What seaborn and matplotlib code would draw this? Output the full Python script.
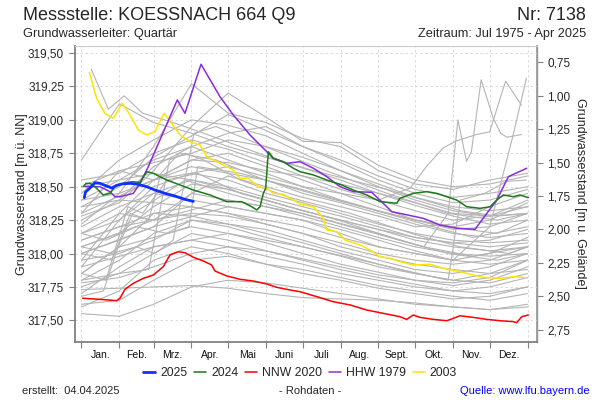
import numpy as np
import pandas as pd
import matplotlib
matplotlib.use("Agg")
import matplotlib.pyplot as plt
import seaborn as sns
from matplotlib.ticker import FixedLocator, FuncFormatter, NullFormatter
from matplotlib.lines import Line2D

sns.set_theme(style="white")
plt.rcParams['font.family'] = ['Liberation Sans', 'DejaVu Sans']

# ---------------- data ----------------
month_labels = ["Jan.", "Feb.", "Mrz.", "Apr.", "Mai", "Juni", "Juli", "Aug.", "Sept.", "Okt.", "Nov.", "Dez."]
month_starts = [0, 31, 59, 90, 120, 151, 181, 212, 243, 273, 304, 334, 365]
ground_level = 320.18

blue_days = [2.3, 3.3, 7, 11, 15, 20.6, 24.7, 28.8, 32.9, 39.7, 45.2, 49.3, 53.4, 60.1, 68.3, 76.5, 84.7, 91.5]
blue_levels = [318.418, 318.46, 318.49, 318.53, 318.525, 318.505, 318.49, 318.51, 318.52, 318.525,
               318.52, 318.51, 318.50, 318.475, 318.45, 318.43, 318.405, 318.39]

green_days = [1.5, 3.7, 7, 11, 15.1, 17.8, 23.3, 27.4, 34.2, 41.1, 47.9, 53.4, 58.8, 69.7, 80.6, 91.5,
              105.2, 118.8, 131.1, 139.3, 143.4, 146.1, 148.8, 150.7, 152.9, 157, 165.1, 173.3, 178.8,
              189.7, 200.7, 212.9, 222.4, 233.4, 244.3, 257.9, 260.6, 271.5, 282.5, 290.7, 298.9, 307,
              315.2, 326.1, 334.3, 339.8, 345.2, 353.4, 358.8, 365.6]
green_levels = [318.50, 318.525, 318.525, 318.50, 318.463, 318.438, 318.45, 318.50, 318.525, 318.537,
                318.533, 318.612, 318.60, 318.55, 318.513, 318.475, 318.438, 318.388, 318.388, 318.35,
                318.326, 318.35, 318.45, 318.488, 318.762, 318.713, 318.687, 318.638, 318.612, 318.588,
                318.55, 318.513, 318.475, 318.438, 318.388, 318.376, 318.413, 318.45, 318.463, 318.45,
                318.425, 318.40, 318.35, 318.338, 318.35, 318.40, 318.438, 318.425, 318.438, 318.418]

red_days = [1, 15.1, 28.8, 31.5, 35.6, 42.4, 50.6, 58.8, 66.9, 72.4, 79.2, 84.7, 91.5, 99.7, 106.5,
            109.2, 118.8, 129.7, 140.6, 151.6, 159.7, 170.6, 178.8, 192.5, 206.1, 219.7, 233.4, 247,
            260.6, 266.1, 271.5, 277, 287.9, 298.9, 304.3, 309.7, 320.6, 331.6, 342.5, 353.4, 356.1,
            360.2, 365.6]
red_levels = [317.665, 317.657, 317.647, 317.665, 317.732, 317.777, 317.814, 317.839, 317.901, 317.989,
              318.013, 318.006, 317.972, 317.944, 317.914, 317.869, 317.832, 317.807, 317.794, 317.772,
              317.747, 317.727, 317.714, 317.677, 317.639, 317.615, 317.577, 317.552, 317.527, 317.507,
              317.54, 317.522, 317.507, 317.497, 317.515, 317.534, 317.522, 317.507, 317.497, 317.49,
              317.482, 317.527, 317.54]

purple_days = [2.9, 15.1, 23.3, 27.4, 31.5, 42.4, 47.9, 54.7, 64.2, 78.4, 84.7, 97.8, 113.3, 124.2,
               137.9, 151.6, 157, 167.9, 178.8, 189.7, 200.7, 211.5, 222.4, 237.5, 249.8, 253.8, 260.6,
               279.7, 293.4, 307, 322, 331.6, 339.8, 349.3, 364.3]
purple_levels = [318.50, 318.50, 318.463, 318.425, 318.425, 318.45, 318.525, 318.65, 318.85, 319.149,
                 319.049, 319.416, 319.174, 319.037, 318.887, 318.762, 318.713, 318.675, 318.687, 318.638,
                 318.575, 318.50, 318.463, 318.458, 318.35, 318.313, 318.30, 318.263, 318.213, 318.189,
                 318.181, 318.30, 318.40, 318.575, 318.638]

yellow_days = [6.4, 12.4, 19.2, 26, 33.4, 39.7, 46.5, 53.4, 60.1, 67.5, 73.8, 80.6, 88.8, 97, 102.5,
               113.3, 124.2, 129.7, 136.5, 144.7, 151.6, 157, 165.1, 173.3, 178.8, 189.7, 197.9, 200.7,
               208.8, 215.6, 227.9, 236.1, 244.3, 252.5, 260.6, 271.5, 285.2, 296.1, 309.7, 320.6, 328.8,
               342.5, 353.4, 361.5]
yellow_levels = [319.356, 319.162, 319.049, 319.012, 319.124, 319.037, 318.924, 318.887, 318.912, 319.049,
                 318.975, 318.887, 318.837, 318.812, 318.725, 318.675, 318.625, 318.563, 318.563, 318.50,
                 318.488, 318.45, 318.443, 318.40, 318.37, 318.35, 318.263, 318.176, 318.163, 318.101,
                 318.064, 318.026, 317.976, 317.964, 317.939, 317.914, 317.919, 317.889, 317.864, 317.839,
                 317.822, 317.814, 317.826, 317.822]

# other years (grey), values at the month starts
grey_levels = [
    [318.70, 319.12, 318.98, 318.90, 318.80, 318.72, 318.64, 318.55, 318.45, 318.36, 318.28, 318.22, 318.25],
    [318.22, 318.45, 318.80, 319.27, 319.05, 318.98, 318.86, 318.80, 318.62, 318.52, 318.48, 318.55, 318.60],
    [318.28, 318.38, 318.62, 318.95, 319.20, 319.02, 318.84, 318.83, 318.66, 318.55, 318.50, 318.52, 318.58],
    [318.40, 318.55, 318.70, 318.80, 318.90, 318.95, 318.80, 318.70, 318.58, 318.48, 318.42, 318.45, 318.50],
    [318.45, 318.70, 318.85, 319.00, 318.96, 318.88, 318.75, 318.62, 318.50, 318.40, 318.32, 318.28, 318.30],
    [318.35, 318.50, 318.72, 318.88, 319.04, 318.92, 318.80, 318.68, 318.55, 318.45, 318.38, 318.40, 318.48],
    [318.50, 318.62, 318.68, 318.75, 318.85, 318.80, 318.72, 318.62, 318.52, 318.42, 318.35, 318.32, 318.35],
    [318.15, 318.30, 318.55, 318.70, 318.68, 318.62, 318.58, 318.52, 318.45, 318.38, 318.30, 318.28, 318.35],
    [318.40, 318.45, 318.55, 318.65, 318.60, 318.55, 318.45, 318.38, 318.30, 318.22, 318.15, 318.12, 318.15],
    [318.30, 318.62, 318.55, 318.70, 318.75, 318.65, 318.55, 318.45, 318.35, 318.25, 318.18, 318.20, 318.30],
    [318.15, 318.25, 318.50, 318.60, 318.55, 318.45, 318.38, 318.30, 318.22, 318.15, 318.10, 318.08, 318.10],
    [318.05, 318.15, 318.35, 318.52, 318.48, 318.40, 318.32, 318.25, 318.18, 318.10, 318.05, 318.02, 318.05],
    [317.95, 318.30, 318.25, 318.45, 318.40, 318.35, 318.28, 318.20, 318.12, 318.05, 318.00, 317.98, 318.00],
    [318.20, 318.35, 318.45, 318.40, 318.35, 318.30, 318.25, 318.18, 318.10, 318.02, 317.95, 317.92, 317.95],
    [317.85, 318.05, 318.30, 318.35, 318.30, 318.22, 318.15, 318.08, 318.00, 317.95, 317.92, 317.95, 318.05],
    [318.10, 318.20, 318.25, 318.30, 318.28, 318.22, 318.15, 318.05, 317.98, 317.92, 317.88, 317.85, 317.88],
    [317.80, 317.95, 318.15, 318.25, 318.22, 318.18, 318.10, 318.02, 317.95, 317.88, 317.85, 317.90, 318.00],
    [318.50, 318.55, 318.60, 318.55, 318.48, 318.40, 318.32, 318.25, 318.18, 318.12, 318.08, 318.10, 318.18],
    [318.25, 318.40, 318.65, 318.80, 318.70, 318.60, 318.50, 318.40, 318.32, 318.25, 318.20, 318.25, 318.38],
    [317.90, 318.25, 318.45, 318.55, 318.50, 318.42, 318.35, 318.28, 318.20, 318.12, 318.08, 318.05, 318.08],
    [318.35, 318.40, 318.38, 318.35, 318.30, 318.25, 318.20, 318.12, 318.05, 318.00, 317.95, 318.00, 318.12],
    [318.00, 318.10, 318.20, 318.45, 318.58, 318.50, 318.42, 318.35, 318.28, 318.20, 318.22, 318.35, 318.45],
    [318.55, 318.60, 318.75, 318.85, 318.78, 318.68, 318.58, 318.48, 318.40, 318.32, 318.25, 318.28, 318.40],
    [317.55, 317.53, 317.62, 317.75, 317.80, 317.78, 317.74, 317.70, 317.66, 317.62, 317.60, 317.58, 317.60],
    [317.73, 317.74, 317.75, 317.76, 317.74, 317.70, 317.67, 317.66, 317.65, 317.63, 317.60, 317.58, 317.62],
    [317.62, 317.65, 317.80, 317.95, 317.98, 317.92, 317.88, 317.82, 317.76, 317.72, 317.68, 317.65, 317.70],
    [317.80, 317.85, 318.00, 318.15, 318.10, 318.02, 317.95, 317.88, 317.82, 317.77, 317.72, 317.70, 317.75],
    [317.70, 317.90, 318.05, 318.10, 318.05, 317.98, 317.92, 317.85, 317.80, 317.75, 317.72, 317.75, 317.82],
    [317.85, 318.05, 318.12, 318.20, 318.15, 318.08, 318.00, 317.92, 317.86, 317.80, 317.76, 317.80, 317.90],
    [317.95, 318.00, 318.10, 318.25, 318.20, 318.12, 318.05, 317.98, 317.90, 317.85, 317.80, 317.78, 317.85],
    [317.60, 317.72, 317.95, 318.05, 318.00, 317.92, 317.85, 317.80, 317.74, 317.70, 317.66, 317.68, 317.75],
    [317.78, 317.82, 317.90, 318.00, 318.05, 318.02, 317.96, 317.90, 317.84, 317.80, 317.78, 317.82, 317.95],
    [318.10, 318.20, 318.30, 318.28, 318.22, 318.15, 318.08, 318.00, 317.92, 317.85, 317.80, 317.85, 317.95],
]

# grey years with irregular measuring dates
grey_extra_days = [
    [8, 22, 35, 50, 75, 100, 130, 160, 190, 220, 250, 280, 310, 340, 365],
    [0, 20, 38, 50, 70, 95, 130, 170, 210, 260, 300, 340, 365],
    [0, 25, 45, 60, 75, 92, 110, 150, 200, 250, 300, 340, 365],
    [0, 30, 55, 72, 85, 100, 130, 170, 220, 270, 310, 350, 365],
    [0, 18, 30, 42, 60, 85, 120, 160, 200, 240, 280, 320, 365],
    [0, 25, 40, 55, 65, 80, 110, 150, 200, 250, 300, 340, 365],
    [0, 20, 45, 70, 88, 95, 130, 180, 230, 280, 320, 365],
    [0, 59, 120, 181, 243, 280, 300, 308, 315, 319, 327, 337, 343, 348, 360],
    [0, 59, 120, 181, 243, 269, 283, 296, 306, 323, 334, 347, 360],
    [0, 59, 120, 181, 243, 304, 334, 353, 364],
    [0, 59, 120, 181, 243, 290, 300, 310, 330, 348, 364],
]
grey_extra_levels = [
    [319.38, 319.08, 319.18, 319.05, 318.98, 318.90, 318.80, 318.70, 318.62, 318.55, 318.48, 318.40, 318.32, 318.28, 318.30],
    [317.85, 317.80, 318.35, 318.30, 318.55, 318.60, 318.45, 318.35, 318.25, 318.10, 318.00, 317.95, 318.00],
    [318.05, 318.00, 318.05, 318.00, 318.10, 318.90, 318.95, 318.80, 318.62, 318.45, 318.30, 318.25, 318.30],
    [317.75, 317.85, 317.88, 318.70, 318.75, 318.70, 318.55, 318.42, 318.30, 318.15, 318.05, 318.00, 318.05],
    [317.68, 317.72, 318.05, 318.30, 318.40, 318.55, 318.45, 318.35, 318.25, 318.15, 318.05, 317.98, 318.05],
    [318.00, 317.95, 318.30, 318.25, 318.60, 318.75, 318.70, 318.55, 318.42, 318.30, 318.20, 318.15, 318.25],
    [318.15, 318.10, 318.20, 318.15, 318.20, 318.65, 318.60, 318.48, 318.35, 318.22, 318.12, 318.20],
    [318.05, 318.25, 318.40, 318.30, 318.15, 318.05, 318.30, 319.00, 318.69, 318.76, 319.30, 319.01, 318.90, 318.87, 318.89],
    [318.30, 318.55, 318.65, 318.50, 318.40, 318.49, 318.66, 318.79, 318.84, 318.89, 318.91, 319.29, 319.11],
    [318.00, 318.20, 318.35, 318.25, 318.05, 317.95, 318.20, 318.88, 319.31],
    [317.90, 318.05, 318.15, 318.05, 317.92, 317.82, 317.80, 318.40, 318.45, 318.54, 318.55],
]

legend_labels = ["2025", "2024", "NNW 2020", "HHW 1979", "2003"]

# ---------------- figure ----------------
fig = plt.figure(figsize=(6, 4), dpi=100)
ax = fig.add_axes([74.5 / 600, 1 - 341.7 / 400, (537 - 74.5) / 600, (341.7 - 45.7) / 400])

grey_col = "#b4b4b4"
for lv in grey_levels:
    sns.lineplot(x=month_starts, y=lv, ax=ax, color=grey_col, linewidth=0.8, estimator=None, sort=False)
for d, lv in zip(grey_extra_days, grey_extra_levels):
    sns.lineplot(x=d, y=lv, ax=ax, color=grey_col, linewidth=0.8, estimator=None, sort=False)

c_blue, c_green, c_red, c_purple, c_yellow = "#1030ff", "#1a7a1a", "#ff0000", "#8a2be2", "#ffe400"
sns.lineplot(x=yellow_days, y=yellow_levels, ax=ax, color=c_yellow, linewidth=1.1, estimator=None, sort=False)
sns.lineplot(x=purple_days, y=purple_levels, ax=ax, color=c_purple, linewidth=1.1, estimator=None, sort=False)
sns.lineplot(x=red_days, y=red_levels, ax=ax, color=c_red, linewidth=1.1, estimator=None, sort=False)
sns.lineplot(x=green_days, y=green_levels, ax=ax, color=c_green, linewidth=1.1, estimator=None, sort=False)
sns.lineplot(x=blue_days, y=blue_levels, ax=ax, color=c_blue, linewidth=2.0, estimator=None, sort=False)

ax.set_xlim(-5.7, 372.7)
ax.set_ylim(317.34, 319.555)

# x ticks
ax.xaxis.set_major_locator(FixedLocator(month_starts))
ax.xaxis.set_major_formatter(NullFormatter())
mids = [(month_starts[i] + month_starts[i + 1]) / 2 for i in range(12)]
ax.xaxis.set_minor_locator(FixedLocator(mids))
ax.set_xticklabels(month_labels, minor=True)
ax.tick_params(axis='x', which='major', length=4, width=0.8, color="#808080", direction='out', bottom=True)
ax.tick_params(axis='x', which='minor', length=0, labelsize=7.5, pad=6, labelcolor="#111111", bottom=True)

# y ticks
yt = [317.50, 317.75, 318.00, 318.25, 318.50, 318.75, 319.00, 319.25, 319.50]
ax.yaxis.set_major_locator(FixedLocator(yt))
ax.yaxis.set_major_formatter(FuncFormatter(lambda v, p: f"{v:.2f}".replace(".", ",")))
ax.tick_params(axis='y', length=4, width=0.8, color="#808080", direction='out', labelsize=8.5, left=True)

ax.grid(True, which='major', linestyle=(0, (3, 3)), color="#d6d6d6", linewidth=0.6)
ax.set_xlabel("")
ax.set_ylabel("")

for s in ["left", "bottom"]:
    ax.spines[s].set_color("#808080")
    ax.spines[s].set_linewidth(1.3)
ax.spines["top"].set_color("#cccccc")
ax.spines["top"].set_linewidth(0.8)
ax.spines["right"].set_color("#999999")
ax.spines["right"].set_linewidth(1.0)

# secondary axis: depth below ground
sec = ax.secondary_yaxis('right', functions=(lambda y: ground_level - y, lambda d: ground_level - d))
rt = [0.75, 1.00, 1.25, 1.50, 1.75, 2.00, 2.25, 2.50, 2.75]
sec.yaxis.set_major_locator(FixedLocator(rt))
sec.yaxis.set_major_formatter(FuncFormatter(lambda v, p: f"{v:.2f}".replace(".", ",")))
sec.tick_params(axis='y', length=4, width=0.8, color="#808080", direction='out', labelsize=8.5)
sec.spines["right"].set_color("#999999")

# axis labels
yc = 1 - (45.7 + 341.7) / 2 / 400
fig.text(22 / 600, yc, "Grundwasserstand [m ü. NN]", rotation=90, ha='center', va='center', fontsize=9)
fig.text(580 / 600, yc, "Grundwasserstand [m u. Gelände]", rotation=270, ha='center', va='center', fontsize=9)

# titles
fig.text(23 / 600, 1 - 15 / 400, "Messstelle: KOESSNACH 664 Q9", fontsize=13, ha='left', va='center')
fig.text(586 / 600, 1 - 15 / 400, "Nr: 7138", fontsize=13, ha='right', va='center')
fig.text(23 / 600, 1 - 34 / 400, "Grundwasserleiter: Quartär", fontsize=9.2, ha='left', va='center')
fig.text(586 / 600, 1 - 34 / 400, "Zeitraum: Jul 1975 - Apr 2025", fontsize=9.2, ha='right', va='center')

# legend
handles = [Line2D([], [], color=c_blue, lw=2.0), Line2D([], [], color=c_green, lw=1.1),
           Line2D([], [], color=c_red, lw=1.1), Line2D([], [], color=c_purple, lw=1.1),
           Line2D([], [], color=c_yellow, lw=1.1)]
fig.legend(handles, legend_labels, loc='center', bbox_to_anchor=(0.5, 1 - 373 / 400), ncol=5, frameon=False,
           fontsize=8.8, handlelength=1.0, handletextpad=0.4, columnspacing=0.55)

# footer
fig.text(22 / 600, 1 - 391 / 400, "erstellt:  04.04.2025", fontsize=8, ha='left', va='center')
fig.text(310 / 600, 1 - 391 / 400, "- Rohdaten -", fontsize=8, ha='center', va='center')
fig.text(590 / 600, 1 - 391 / 400, "Quelle: www.lfu.bayern.de", fontsize=8, ha='right', va='center', color="#0000ff")

fig.savefig("out.png", dpi=100)
